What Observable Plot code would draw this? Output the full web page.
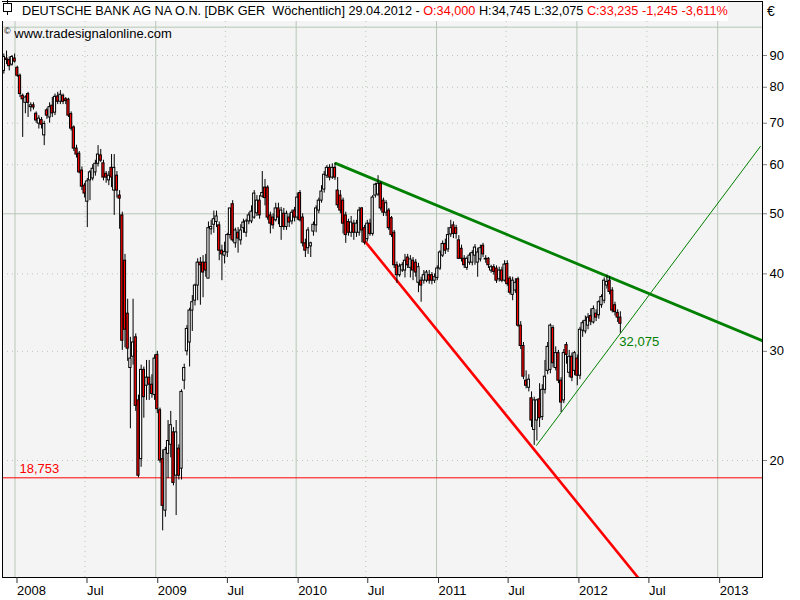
<!DOCTYPE html>
<html>
<head>
<meta charset="utf-8">
<script src="https://cdn.jsdelivr.net/npm/d3@7"></script>
<script src="https://cdn.jsdelivr.net/npm/@observablehq/plot@0.6"></script>
<style>
html,body{margin:0;padding:0;background:#fff;}
#wrap{position:relative;width:800px;height:600px;overflow:hidden;font-family:"Liberation Sans",Arial,sans-serif;}
#wrap svg{position:absolute;left:0;top:0;}
#title{position:absolute;left:0;top:2px;width:728px;height:19px;background:#fff;font-size:12.7px;line-height:19px;white-space:pre;color:#000;}
#title .r{color:#ff0000;}
#title .t{position:absolute;left:22px;top:0;}
#icon{position:absolute;left:3px;top:3px;}
#src{position:absolute;left:4px;top:23px;font-size:13px;white-space:pre;line-height:16px;}
#src sup{font-size:9px;vertical-align:4px;}
#euro{position:absolute;left:767px;top:3px;font-size:14px;}
</style>
</head>
<body>
<div id="wrap"></div>
<script>
// ---- data (weekly candles, Deutsche Bank, EUR) ----
const firstWeek = "2007-11-26";
const open = [84,85,89,88.5,87,89,86,83.5,77.5,75.5,78,74.3,74.8,72.5,69.9,70.8,66.9,73.4,71.5,74.7,72.8,77.3,75.8,77.5,76.5,76.4,72.4,68.9,63.7,62.5,58.7,55.5,52.3,56.6,57,58.3,60.2,62.1,60.3,58,56.6,59.3,54.5,57.6,53.5,49.7,42,34.5,28.2,29.4,31.6,25,20.1,28,26.4,27.2,26.5,25.5,29.6,24.1,20.1,16.6,20.5,21.2,22.2,18.9,20.9,19.4,26.9,30,31,34.9,36.2,38.3,41.7,41.7,41.7,39.3,47.2,48,48.5,47.9,43.6,42.8,43.3,46.2,51.8,44.8,46.6,45.3,47.4,46.6,48.6,48.6,49.3,50.1,52.5,53.3,55.1,55.1,49.7,49.3,48.8,51,47.6,50,47.6,49.3,48.6,50.6,49.3,54,49.3,44.8,44,44.3,46.8,47.9,50.6,52.5,54.7,57.6,59.3,57.2,59.3,54.5,53.5,52.5,49.7,48.5,46.6,48.2,46.6,46.6,51,47.4,45.5,48.2,46.4,53.5,53.7,55.9,52.5,50.2,50.6,49.2,46.6,41.3,39.8,40.5,40.5,42.5,40.9,42,41.7,38.7,39,39,39,39.8,39.8,39,39.4,40.8,42.8,44.7,43.8,46.3,47.9,47.4,45.3,43.9,42.3,40.9,41.7,41.7,42.8,41.7,42.2,44.4,42.3,42.3,40.5,41,40.8,39.2,40.5,39,41.5,39.3,37,37.6,39.2,33,30.6,26.9,26.2,25.2,22.4,23.2,25.1,23.5,26,27.9,28,32.7,28.2,29.8,26.9,25,30.7,27.7,29.4,27.9,29.2,27.4,32.4,32.3,33,34.2,33.4,34.5,34.3,35.6,36.2,38.3,39,37.6,35.6,34.6,34];
const high = [87.5,90.5,91.5,89.5,90,90.5,86.5,84,78,77.5,78.5,75.5,75.5,73,72,71.5,70.5,74,75.5,77,78,78.5,79,78,77,76.8,73,69.3,64.5,63,59.5,56,57,58.7,60,61,64.4,63.5,61,58.5,58.5,62.3,62.3,58.5,54.5,50.3,43,36.4,31.6,36.4,32,25.5,28.5,28.3,29,29,27.5,29.6,30,24.3,20.8,21,23.2,24,22.6,23.2,21.2,26,28.6,33,35.2,36.9,38.5,42.3,42.5,42.8,43,48.5,48.8,50.5,50.5,48.5,44.5,45,46.5,51,52.5,47.4,47.5,48,49,49,50.2,51.5,54.5,53.5,53.5,58.5,56.8,55.5,50.3,50,52,52,51.2,51,50.5,50,50.7,51.2,54,54.5,50,45.5,47.5,45,48.5,51.5,53,55.5,58.5,59.8,60,60.2,60.3,57.2,54.5,53,50.3,49,49.5,48.8,48.8,51.2,51.2,47.9,48.8,49,53.5,56,57.6,56.3,53,52.5,51,49.5,47,41.8,41.5,41.7,43,43,42.8,42.5,42.2,41.6,39.5,40.5,40.5,40.5,40.2,40,41.2,43.6,45.2,45.5,47.5,48.8,48.5,47.9,46.1,44.5,42.8,42.6,43.2,43.6,44.6,44,44.5,44.8,42.8,42.5,41.3,41.4,41.2,41,41,42,42,39.6,39.5,39.3,39.5,33.5,31,27.9,27.5,25.8,25.3,25.1,26.6,26.5,29,31,33.2,33,30.5,30.1,27.2,30.2,31,30.1,29.8,30,29.6,32.8,33.6,34.2,34.5,35.1,35.5,35,36.2,37,39.4,39.8,39.6,38,36,35,34.745];
const low = [82,84,87,85,86.5,87.5,83,77,66.4,72.5,71.5,73,73.5,70,68.5,68.5,64.4,71,70,71.5,72,75,75,75,75,71.5,68,63,61.5,58,54.5,53,47.5,52.5,56.5,57.5,59.5,60.5,56.5,56,55.5,55.1,49.7,53,47.2,30.1,30.4,28.9,22.5,28.5,24,18.753,19.5,23.4,25,25,25.2,25,23.8,19.8,15.4,16.2,18.7,20.2,18.2,16.3,18.6,18.6,26,29.5,28.3,32.3,35.5,36.2,35.6,36.6,39.5,39.3,46.2,46.5,47.5,42,39,41.5,42.5,45.5,45,44,43.2,44.5,46.5,45.8,48,48.2,49,49.5,49,53,51.5,48.8,46.4,47.2,48.5,48,45.3,47,47,47.5,48,48.5,48.8,48.5,44.2,42.5,43,42.5,46,46.6,50,52,54,57,56.5,56.8,56.6,51,50,46.4,44.8,46,45.8,45.3,45.8,46,44.9,44.5,45,46,46,53,53.3,50.5,49.5,49.5,47,45.8,40.8,38.6,39.5,40.2,39.4,40.8,39.4,39,39.5,37.3,36,38.5,38.7,38.5,38.4,38.6,39,40.5,42.5,43,43.3,45.8,45.6,45.5,42.2,41.8,40.8,40.5,41.3,41.2,41.3,39.5,41.8,42.5,41.6,40.8,40.1,39.8,38.6,38.8,38.7,38.8,38.2,37,36.2,37.2,32.8,30.2,27,26.1,25.8,22.6,21.15,21.5,22.6,23.2,25.6,27.5,27.6,28.2,27.9,26.6,23.9,24.7,28.6,27.2,26.8,27.4,26.4,27,31.6,32,32.5,33,33.2,33.5,33.8,35.2,35.8,37.8,37,34.6,34.2,33.4,32.075];
const close = [86,89.5,88.5,86.5,89.5,88,83.5,78,76.5,77,75.5,74.8,74.2,70.7,71.2,69.6,69.8,72,74.3,72.6,77.2,75.8,77.8,75.8,76,72,68.6,63.7,62.3,58.3,55.3,53.9,56.4,58.3,59.1,60.2,62.3,60.9,57.2,57.2,57.6,57.2,59.3,54.5,52.9,31.2,32.5,30.3,29.2,31,24.5,18.9,28,25.3,27.2,26.5,25.6,29.2,24.2,20,16.9,20.8,21.5,22.8,18.4,22.2,18.9,25.8,28.2,32.6,34.9,36,38.3,41.7,41.3,40.2,40.5,47.4,47.6,49,49.5,43.6,43,43.4,46.2,51,45.3,47,45.6,47,48.4,48.6,49.7,50.4,53.9,52.5,49.7,54,53,49.3,48.2,47.9,51,49.3,50.6,47.6,50,48.4,50.2,49.3,53.1,48.8,44.8,43.6,47,44.8,48,51,52.5,54.3,57.8,59.3,57.2,59.3,57.2,51.6,50.6,48.2,46.2,46.6,48.4,46.6,48.2,50.6,47,44.9,48.2,46.4,53.1,55.7,55.9,51,50.2,52,47.4,46.2,41.3,39.8,41.1,41.3,42,41.3,42.2,40.5,40.2,41,38.3,39.8,40.2,39,39,39.5,40.8,43.3,44.7,43.6,46.2,47.4,46.4,46.4,42.3,42.3,41.3,42.3,42.8,43.2,44.1,43.3,44,43,42.2,41.3,41,40.3,39,40.5,39,41.4,38.5,37.3,39,38.7,33,30.6,27.3,26.4,27,23.2,25,25,23.4,26,27.3,30.5,33,28.7,29.8,26.9,24.8,29.8,29.6,29.4,27.2,29.8,27.4,32.5,33.3,33.6,34,33.5,35.1,34,36,36.7,39,38.8,37.4,34.9,34.7,34,33.235];

// y-axis ticks and grid levels
const yTicks = [20, 30, 40, 50, 60, 70, 80, 90];
const ySolid = [50, 100];
const yDotted = [20, 30, 40, 60, 70, 80, 90];
// x-axis ticks
const yearTicks = ["2008-01-01","2009-01-01","2010-01-01","2011-01-01","2012-01-01","2013-01-01"];
const julTicks = ["2008-07-01","2009-07-01","2010-07-01","2011-07-01","2012-07-01"];

// drawn lines and levels
const supportLevel = 18.753;
const supportLabel = "18,753";
const lastLowLabel = "32,075";
const greenDown = [{date:"2010-04-14", value:60.3}, {date:"2013-04-27", value:31.2}];
const redDown = [{date:"2010-06-27", value:45.3}, {date:"2011-09-18", value:20.6}];
const greenUp = [{date:"2011-09-18", value:21.15}, {date:"2013-04-22", value:64.2}];

// ---- build ----
const parse = s => { const [y,m,d] = s.split("-").map(Number); return new Date(y, m-1, d); };
const start = parse(firstWeek);
const candles = open.map((o, i) => ({
  date: d3.timeDay.offset(start, 7*i),
  open: o, high: high[i], low: low[i], close: close[i]
}));
const toPts = arr => arr.map(d => ({date: parse(d.date), value: d.value}));
// extend the red line (straight on a log scale) beyond the chart bottom
const rd = toPts(redDown);
const slope = (Math.log(rd[1].value) - Math.log(rd[0].value)) / (rd[1].date - rd[0].date);
const rdEnd = new Date(2013, 0, 1);
const redLine = [rd[0], {date: rdEnd, value: Math.exp(Math.log(rd[0].value) + slope*(rdEnd - rd[0].date))}];

const xDomain = [new Date(2007, 10, 29, 12), new Date(2013, 3, 27, 14)];
const yDomain = [12.95, 110];
const grid = "#b7c7b7";
const half = 2.9; // days, half body width

const chart = Plot.plot({
  width: 800, height: 600,
  marginTop: 1, marginLeft: 2, marginRight: 38, marginBottom: 23,
  x: {type: "time", domain: xDomain},
  y: {type: "log", domain: yDomain},
  color: {type: "identity"},
  style: {background: "white", fontFamily: "Liberation Sans, Arial, sans-serif", fontSize: "13px", color: "black", overflow: "visible"},
  marks: [
    Plot.frame({fill: "#f4f4f4", stroke: "none"}),
    Plot.ruleX(yearTicks.map(parse), {stroke: grid, strokeWidth: 1}),
    Plot.ruleX(julTicks.map(parse), {stroke: grid, strokeWidth: 1, strokeDasharray: "1,4"}),
    Plot.ruleY(ySolid, {stroke: grid, strokeWidth: 1}),
    Plot.ruleY(yDotted, {stroke: grid, strokeWidth: 1, strokeDasharray: "1,4"}),
    Plot.ruleY([supportLevel], {stroke: "#ff0000", strokeWidth: 1}),
    Plot.text([supportLabel], {frameAnchor: "left", y: () => supportLevel, text: d => d, dx: 17, dy: -9, textAnchor: "start", fill: "#ff0000", fontSize: 13}),
    Plot.line(redLine, {x: "date", y: "value", stroke: "#ff0000", strokeWidth: 2.6, clip: true}),
    Plot.line(toPts(greenDown), {x: "date", y: "value", stroke: "#008000", strokeWidth: 2.8, clip: true}),
    Plot.line(toPts(greenUp), {x: "date", y: "value", stroke: "#008000", strokeWidth: 1, clip: true}),
    Plot.ruleX(candles, {x: "date", y1: "low", y2: "high", stroke: "black", strokeWidth: 1, clip: true}),
    Plot.rect(candles, {
      x1: d => d3.timeHour.offset(d.date, -half*24),
      x2: d => d3.timeHour.offset(d.date, half*24),
      y1: "open", y2: "close",
      fill: d => d.close < d.open ? "#ff0000" : "#ffffff",
      stroke: "black", strokeWidth: 1, clip: true
    }),
    Plot.text([candles[candles.length-1]], {x: "date", y: "low", text: () => lastLowLabel, dx: -1, dy: 9, textAnchor: "start", fill: "#008000", fontSize: 13}),
    Plot.frame({stroke: "black", strokeWidth: 1}),
    Plot.axisY(yTicks, {anchor: "right", tickSize: 4, tickPadding: 3, tickFormat: d => String(d), stroke: "#808080", fill: "black", fontSize: 13}),
    Plot.axisX([...yearTicks, ...julTicks].map(parse), {anchor: "bottom", tickSize: 6, tickPadding: 2, textAnchor: "start", dx: 2,
      tickFormat: d => d.getMonth() === 0 ? String(d.getFullYear()) : "Jul", stroke: "#333", fill: "black", fontSize: 13})
  ]
});

const wrap = document.getElementById("wrap");
wrap.appendChild(chart);

const title = document.createElement("div");
title.id = "title";
title.innerHTML = '<span class="t">DEUTSCHE BANK AG NA O.N. [DBK GER  Wöchentlich] 29.04.2012 - <span class="r">O:34,000</span> H:34,745 L:32,075 <span class="r">C:33,235 -1,245 -3,611%</span></span>';
wrap.appendChild(title);

const icon = document.createElementNS("http://www.w3.org/2000/svg", "svg");
icon.setAttribute("id", "icon");
icon.setAttribute("width", "14"); icon.setAttribute("height", "16");
icon.innerHTML = '<line x1="7.5" y1="0" x2="7.5" y2="15" stroke="black"/><rect x="3.5" y="3.5" width="8" height="8" fill="white" stroke="black"/>';
wrap.appendChild(icon);

const src = document.createElement("div");
src.id = "src";
src.innerHTML = '<sup>©</sup> www.tradesignalonline.com';
wrap.appendChild(src);

const euro = document.createElement("div");
euro.id = "euro";
euro.textContent = "€";
wrap.appendChild(euro);
</script>
</body>
</html>
